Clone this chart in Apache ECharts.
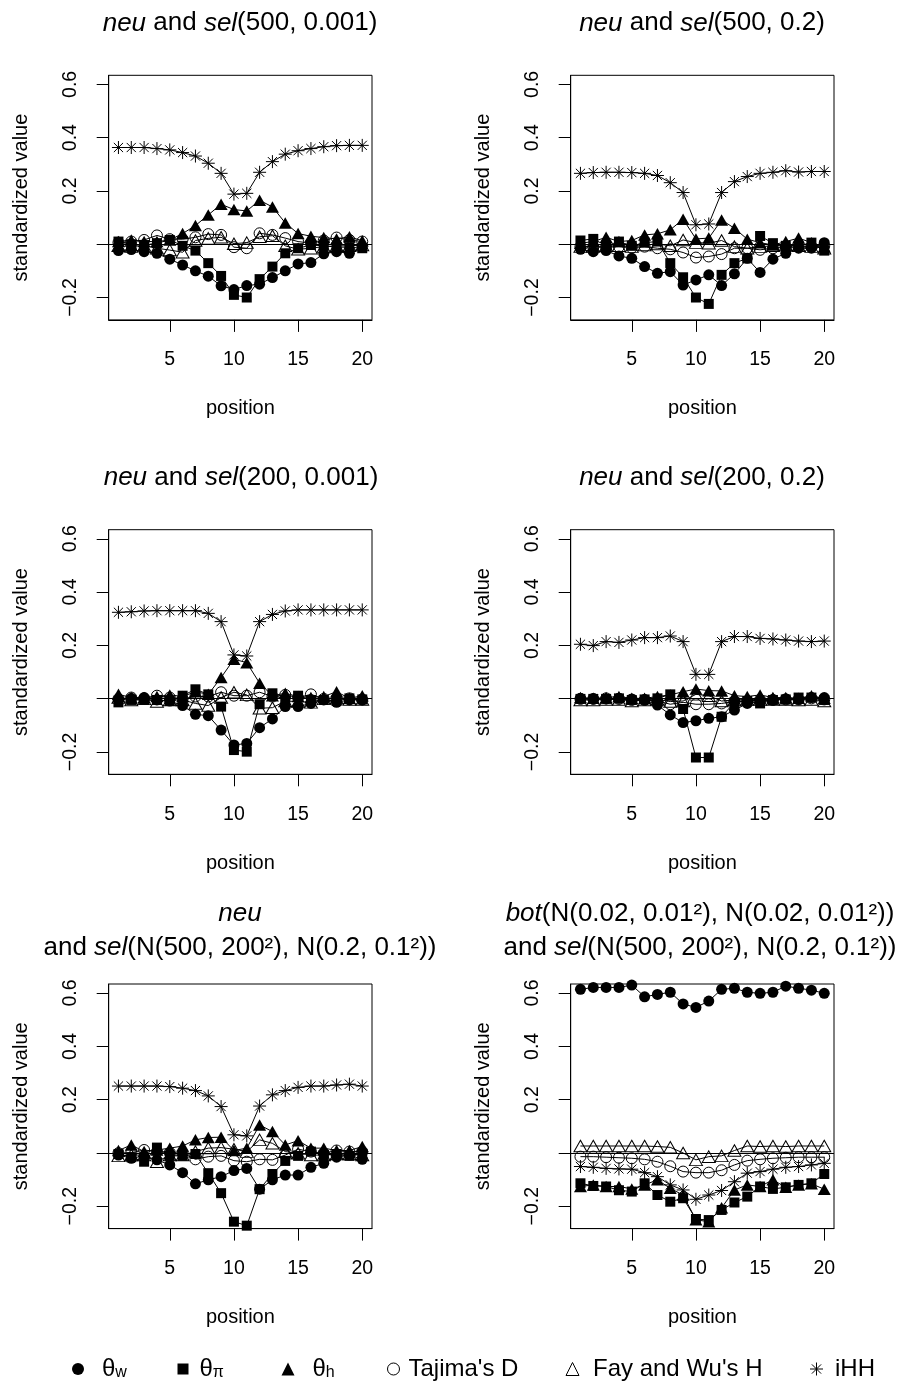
<!DOCTYPE html>
<html><head><meta charset="utf-8">
<script src="https://cdn.jsdelivr.net/npm/echarts@6/dist/echarts.min.js"></script>
<style>html,body{margin:0;padding:0;background:#fff}#c{width:908px;height:1385px}</style>
</head><body><div id="c"></div>
<script>
// ---------- data ----------
const positions = [1,2,3,4,5,6,7,8,9,10,11,12,13,14,15,16,17,18,19,20];
const xTicks = [5,10,15,20];
const yTicks = [-0.2,0,0.2,0.4,0.6];
const yTickLabels = [-0.2,0.2,0.4,0.6];
const seriesNames = ['θw','θπ','θh',"Tajima's D","Fay and Wu's H",'iHH'];

// panel 1: neu and sel(500, 0.001)
const p1_thetaW = [-0.024,-0.020,-0.028,-0.034,-0.056,-0.078,-0.100,-0.120,-0.156,-0.170,-0.155,-0.150,-0.125,-0.100,-0.074,-0.069,-0.036,-0.028,-0.034,-0.010];
const p1_thetaPi = [0.010,0.000,-0.003,0.004,0.016,-0.006,-0.024,-0.071,-0.119,-0.190,-0.200,-0.131,-0.084,-0.034,-0.015,-0.003,-0.006,-0.011,-0.011,-0.015];
const p1_thetaH = [0.010,0.016,0.010,0.010,0.016,0.040,0.070,0.110,0.150,0.130,0.125,0.165,0.140,0.080,0.040,0.030,0.025,0.020,0.028,0.013];
const p1_tajD = [0.006,0.010,0.016,0.033,0.019,0.019,0.026,0.038,0.035,-0.011,-0.015,0.041,0.035,0.023,0.010,0.004,0.014,0.025,0.016,0.010];
const p1_fayH = [-0.006,-0.009,-0.005,-0.015,-0.022,-0.030,0.014,0.022,0.026,0.002,0.006,0.028,0.032,-0.006,-0.019,-0.015,-0.009,-0.006,-0.006,-0.003];
const p1_iHH = [0.363,0.363,0.363,0.359,0.354,0.344,0.331,0.304,0.266,0.188,0.191,0.270,0.310,0.338,0.351,0.359,0.366,0.370,0.371,0.371];

// panel 2: neu and sel(500, 0.2)
const p2_thetaW = [-0.019,-0.028,-0.024,-0.044,-0.053,-0.084,-0.109,-0.103,-0.153,-0.134,-0.115,-0.155,-0.111,-0.053,-0.106,-0.056,-0.034,-0.015,-0.015,0.006];
const p2_thetaPi = [0.014,0.020,-0.006,0.010,-0.006,0.006,0.010,-0.071,-0.124,-0.200,-0.224,-0.115,-0.071,-0.053,0.031,0.004,-0.006,-0.006,0.006,-0.024];
const p2_thetaH = [0.004,0.010,0.026,0.010,0.014,0.035,0.039,0.054,0.094,0.020,0.023,0.091,0.060,0.019,0.006,-0.003,0.010,0.023,0.006,-0.009];
const p2_tajD = [-0.009,-0.011,-0.011,-0.009,-0.013,-0.009,-0.015,-0.019,-0.031,-0.050,-0.046,-0.037,-0.015,-0.015,-0.021,-0.015,-0.011,-0.011,-0.009,-0.006];
const p2_fayH = [-0.009,-0.009,-0.006,-0.006,-0.009,-0.003,0.001,-0.006,0.016,0.006,0.004,0.014,-0.009,-0.015,-0.009,-0.006,-0.003,-0.006,-0.009,-0.015];
const p2_iHH = [0.266,0.269,0.270,0.270,0.269,0.266,0.258,0.231,0.194,0.073,0.076,0.194,0.235,0.254,0.266,0.270,0.276,0.271,0.273,0.273];

// panel 3: neu and sel(200, 0.001)
const p3_thetaW = [-0.005,0.001,0.004,-0.005,-0.009,-0.026,-0.059,-0.064,-0.118,-0.174,-0.168,-0.109,-0.076,-0.030,-0.030,-0.018,-0.005,-0.014,-0.005,-0.005];
const p3_thetaPi = [-0.014,-0.005,-0.005,-0.005,-0.009,0.011,0.035,0.016,-0.030,-0.193,-0.199,-0.021,0.020,-0.009,0.011,-0.005,-0.005,-0.009,0.001,-0.003];
const p3_thetaH = [0.016,0.004,0.004,0.008,0.014,0.008,0.026,0.016,0.079,0.148,0.135,0.058,0.011,0.020,0.008,0.004,0.008,0.026,0.001,0.011];
const p3_tajD = [-0.001,0.004,0.001,0.011,0.004,-0.001,0.008,0.008,0.024,0.011,0.011,0.024,0.008,0.014,0.004,0.016,-0.001,0.001,0.001,-0.003];
const p3_fayH = [0.004,-0.005,-0.001,-0.011,-0.005,-0.005,-0.018,-0.026,0.004,0.024,0.014,-0.036,-0.034,-0.009,-0.011,-0.014,-0.001,0.001,-0.003,-0.003];
const p3_iHH = [0.324,0.326,0.329,0.330,0.330,0.330,0.330,0.320,0.289,0.164,0.160,0.289,0.316,0.329,0.333,0.333,0.333,0.333,0.333,0.333];

// panel 4: neu and sel(200, 0.2)
const p4_thetaW = [0.001,-0.001,-0.001,0.001,-0.001,-0.005,-0.024,-0.061,-0.090,-0.083,-0.074,-0.068,-0.043,-0.018,-0.009,-0.005,-0.001,-0.003,0.004,0.004];
const p4_thetaPi = [-0.001,-0.001,-0.001,0.001,-0.005,-0.003,0.001,0.016,-0.039,-0.221,-0.221,-0.068,-0.014,-0.009,-0.018,-0.005,-0.003,0.004,0.004,-0.005];
const p4_thetaH = [0.004,0.001,0.004,0.008,0.001,0.001,0.008,0.014,0.026,0.036,0.030,0.029,0.011,0.008,0.014,0.004,0.004,0.001,0.011,0.001];
const p4_tajD = [-0.001,-0.001,0.001,-0.001,-0.005,-0.005,-0.009,-0.021,-0.014,-0.021,-0.021,-0.018,-0.011,-0.009,-0.005,-0.005,-0.003,-0.003,0.001,-0.003];
const p4_fayH = [-0.005,-0.005,-0.003,-0.003,-0.009,-0.005,-0.003,-0.011,-0.009,0.016,0.011,-0.009,-0.005,-0.003,-0.003,-0.003,-0.003,-0.005,-0.003,-0.009];
const p4_iHH = [0.204,0.199,0.214,0.211,0.220,0.229,0.229,0.235,0.214,0.091,0.091,0.214,0.233,0.233,0.226,0.224,0.220,0.216,0.214,0.216];

// panel 5: neu and sel(N(500, 200^2), N(0.2, 0.1^2))
const p5_thetaW = [-0.008,-0.020,-0.011,-0.026,-0.045,-0.074,-0.116,-0.101,-0.089,-0.066,-0.058,-0.136,-0.101,-0.083,-0.083,-0.054,-0.039,-0.016,-0.008,-0.024];
const p5_thetaPi = [-0.004,-0.016,-0.033,0.020,-0.011,-0.011,-0.004,-0.076,-0.151,-0.258,-0.273,-0.136,-0.079,-0.030,-0.011,0.005,-0.008,-0.004,-0.011,-0.004];
const p5_thetaH = [0.009,0.030,0.005,0.011,0.018,0.026,0.049,0.058,0.059,0.009,0.018,0.105,0.080,0.030,0.046,0.018,0.018,0.009,0.009,0.024];
const p5_tajD = [-0.001,0.001,0.011,0.005,0.001,-0.001,-0.024,-0.014,-0.011,-0.029,-0.033,-0.024,-0.026,-0.008,0.014,0.005,-0.001,0.009,0.005,0.005];
const p5_fayH = [-0.011,-0.008,-0.008,-0.033,-0.008,-0.008,0.005,0.018,0.020,0.014,0.005,0.049,0.036,0.005,-0.001,-0.008,-0.008,-0.004,-0.004,-0.008];
const p5_iHH = [0.251,0.251,0.251,0.251,0.249,0.243,0.234,0.214,0.174,0.068,0.064,0.176,0.218,0.234,0.246,0.251,0.251,0.255,0.258,0.251];

// panel 6: bot(...) and sel(...)
const p6_thetaW = [0.614,0.621,0.621,0.621,0.630,0.586,0.595,0.603,0.559,0.546,0.570,0.614,0.618,0.603,0.599,0.603,0.626,0.618,0.611,0.599];
const p6_thetaPi = [-0.114,-0.124,-0.126,-0.140,-0.145,-0.114,-0.158,-0.183,-0.170,-0.248,-0.252,-0.214,-0.186,-0.164,-0.126,-0.135,-0.129,-0.120,-0.114,-0.079];
const p6_thetaH = [-0.126,-0.120,-0.126,-0.126,-0.135,-0.120,-0.101,-0.133,-0.158,-0.251,-0.258,-0.206,-0.139,-0.120,-0.126,-0.101,-0.129,-0.120,-0.116,-0.136];
const p6_tajD = [-0.014,-0.014,-0.016,-0.018,-0.020,-0.024,-0.033,-0.050,-0.070,-0.074,-0.074,-0.065,-0.045,-0.029,-0.024,-0.020,-0.018,-0.016,-0.016,-0.016];
const p6_fayH = [0.026,0.026,0.026,0.026,0.026,0.026,0.024,0.021,0.000,-0.026,-0.014,-0.011,0.009,0.026,0.024,0.026,0.024,0.026,0.026,0.026];
const p6_iHH = [-0.051,-0.054,-0.058,-0.060,-0.061,-0.074,-0.089,-0.120,-0.139,-0.174,-0.158,-0.141,-0.108,-0.076,-0.070,-0.061,-0.054,-0.051,-0.045,-0.039];

const panels = [
  [p1_thetaW,p1_thetaPi,p1_thetaH,p1_tajD,p1_fayH,p1_iHH],
  [p2_thetaW,p2_thetaPi,p2_thetaH,p2_tajD,p2_fayH,p2_iHH],
  [p3_thetaW,p3_thetaPi,p3_thetaH,p3_tajD,p3_fayH,p3_iHH],
  [p4_thetaW,p4_thetaPi,p4_thetaH,p4_tajD,p4_fayH,p4_iHH],
  [p5_thetaW,p5_thetaPi,p5_thetaH,p5_tajD,p5_fayH,p5_iHH],
  [p6_thetaW,p6_thetaPi,p6_thetaH,p6_tajD,p6_fayH,p6_iHH]
];

const titleLines = [
  ['{it|neu} and {it|sel}(500, 0.001)'],
  ['{it|neu} and {it|sel}(500, 0.2)'],
  ['{it|neu} and {it|sel}(200, 0.001)'],
  ['{it|neu} and {it|sel}(200, 0.2)'],
  ['{it|neu}', 'and {it|sel}(N(500, 200²), N(0.2, 0.1²))'],
  ['{it|bot}(N(0.02, 0.01²), N(0.02, 0.01²))', 'and {it|sel}(N(500, 200²), N(0.2, 0.1²))']
];

// ---------- layout / style ----------
const FF = '"Liberation Sans", Arial, Helvetica, sans-serif';
const TITLE_FS = 26;
const gridPos = [
  {left:108.7, top:75.3}, {left:570.7, top:75.3},
  {left:108.7, top:529.7}, {left:570.7, top:529.7},
  {left:108.7, top:984}, {left:570.7, top:984}
];
const GW = 263.3, GH = 244.6;
const titleX = [240, 702, 241, 702, 240, 700];
const titleY1 = [23.3, 23.3, 477.7, 477.7, 913.6, 913.6];
const titleY2 = 947.6;

const STAR = 'path://M0,-10L0,10M-10,0L10,0M-7.07,-7.07L7.07,7.07M-7.07,7.07L7.07,-7.07';
const CLEAR = 'rgba(0,0,0,0)';
const symDefs = [
  {symbol:'circle', size:11, fill:'#000', bw:0},
  {symbol:'rect', size:10, fill:'#000', bw:0},
  {symbol:'triangle', size:[13,11.5], fill:'#000', bw:0},
  {symbol:'circle', size:11, fill:CLEAR, bw:1},
  {symbol:'triangle', size:[13,11.5], fill:CLEAR, bw:1},
  {symbol:STAR, size:13, fill:CLEAR, bw:1}
];

const fmtY = v => (v < 0 ? '\u2212' : '') + Math.abs(v).toFixed(1);

const grids = [], xAxes = [], yAxes = [], series = [], graphics = [];
panels.forEach((pdata, p) => {
  grids.push({left:gridPos[p].left, top:gridPos[p].top, width:GW, height:GH,
    show:true, borderColor:'#000', borderWidth:1, backgroundColor:'transparent',
    containLabel:false, outerBoundsMode:'none'});
  xAxes.push({gridIndex:p, type:'value', min:0.24, max:20.76,
    axisLine:{show:true, onZero:false, lineStyle:{color:'#000', width:1}},
    axisTick:{show:true, inside:false, length:12, customValues:xTicks, lineStyle:{color:'#000', width:1}},
    axisLabel:{show:true, customValues:xTicks, margin:30, color:'#000', fontSize:19.5, fontFamily:FF},
    splitLine:{show:false},
    name:'position', nameLocation:'middle', nameGap:79,
    nameTextStyle:{fontSize:20, color:'#000', fontFamily:FF}});
  yAxes.push({gridIndex:p, type:'value', min:-0.284, max:0.634,
    axisLine:{show:true, onZero:false, lineStyle:{color:'#000', width:1}},
    axisTick:{show:true, inside:false, length:12, customValues:yTicks, lineStyle:{color:'#000', width:1}},
    axisLabel:{show:true, customValues:yTickLabels, rotate:90, margin:28, color:'#000', fontSize:19.5, fontFamily:FF, formatter:fmtY},
    splitLine:{show:false},
    name:'standardized value', nameLocation:'middle', nameRotate:90, nameGap:77,
    nameTextStyle:{fontSize:20, color:'#000', fontFamily:FF}});
  pdata.forEach((vals, k) => {
    const d = symDefs[k];
    const s = {
      type:'line', name:seriesNames[k], xAxisIndex:p, yAxisIndex:p,
      data: positions.map((x, i) => [x, vals[i]]),
      symbol:d.symbol, symbolSize:d.size, showAllSymbol:true,
      itemStyle:{color:d.fill, borderColor:'#000', borderWidth:d.bw},
      lineStyle:{color:'#000', width:1},
      emphasis:{disabled:true}, silent:true, animation:false, clip:true, z:2 + k
    };
    if (k === 0) {
      s.markLine = {silent:true, symbol:['none','none'], label:{show:false}, animation:false,
        lineStyle:{color:'#000', type:'solid', width:1}, data:[{yAxis:0}]};
    }
    series.push(s);
  });
  const lines = titleLines[p];
  lines.forEach((txt, li) => {
    graphics.push({type:'text', x:titleX[p], y: li === 0 ? titleY1[p] : titleY2, silent:true,
      style:{text:txt, font: TITLE_FS + 'px ' + FF, fill:'#000',
        align:'center', verticalAlign:'middle', textAlign:'center', textVerticalAlign:'middle',
        rich:{it:{font:'italic ' + TITLE_FS + 'px ' + FF, fill:'#000'}}}});
  });
});

// legend (one component per entry, placed like the reference)
const legendCx = [78, 183, 288, 393, 572, 816];
const legendPad = [13, 6, 13, 4, 9, 7];
const legendIcon = ['circle','rect','triangle','circle','triangle',STAR];
const legendSize = [12, 11, 13, 12, 13, 13];
const thetaText = {'θw':'{t|θ}{s|w}', 'θπ':'{t|θ}{s|π}', 'θh':'{t|θ}{s|h}'};
const legends = seriesNames.map((nm, k) => ({
  left: legendCx[k] - legendSize[k] / 2, top: 1357, orient:'horizontal', selectedMode:false,
  itemWidth: legendSize[k], itemHeight: legendSize[k], padding:0,
  data:[{name:nm, icon:legendIcon[k],
    itemStyle:{color:symDefs[k].fill, borderColor:'#000', borderWidth:symDefs[k].bw}}],
  formatter: n => thetaText[n] || n,
  textStyle:{fontSize:24, color:'#000', fontFamily:FF, padding:[0,0,0,legendPad[k]],
    rich:{t:{fontSize:24, color:'#000', fontFamily:FF}, s:{fontSize:16, color:'#000', fontFamily:FF, verticalAlign:'bottom'}}}
}));

const chart = echarts.init(document.getElementById('c'), null, {renderer:'canvas'});
chart.setOption({
  animation:false, backgroundColor:'#fff',
  grid:grids, xAxis:xAxes, yAxis:yAxes, series:series, legend:legends, graphic:graphics
});
</script></body></html>
